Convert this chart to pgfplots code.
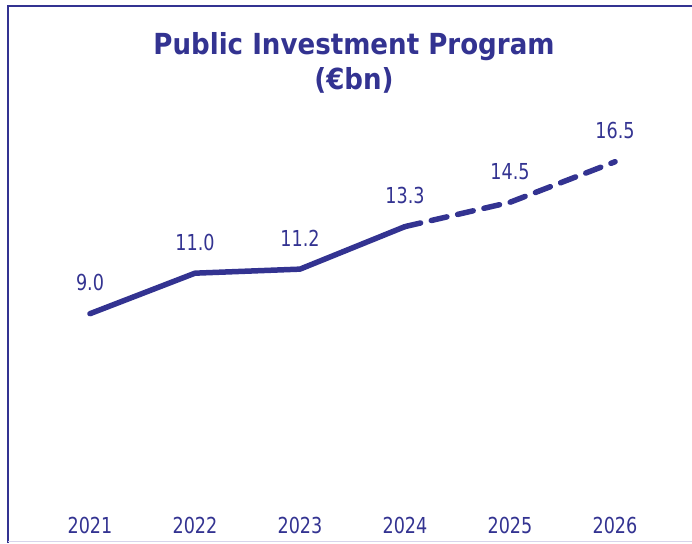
\documentclass[border=0pt]{standalone}
\usepackage{fontspec}
\setmainfont[FakeStretch=0.8]{DejaVu Sans}
\newfontfamily\titlefont[FakeStretch=0.9]{DejaVu Sans Bold}
\usepackage{pgfplots}
\pgfplotsset{compat=1.18}
\definecolor{navy}{RGB}{51,51,145}
\definecolor{lav}{RGB}{215,212,235}
\begin{document}
\begin{tikzpicture}[x=1pt,y=1pt]
\useasboundingbox (0,0) rectangle (692,543);
\draw[navy, line width=2.8pt] (8,0) -- (8,537) -- (692,537);
\draw[lav, line width=1.2pt] (8,1.5) -- (692,1.5);
\node[navy, font=\titlefont\fontsize{29}{35}\selectfont, align=center] at (354,480) {Public Investment Program\\(€bn)};
\begin{axis}[
  at={(37.5pt,47pt)}, anchor=south west,
  scale only axis, width=630pt, height=395pt,
  xmin=2020.5, xmax=2026.5, ymin=0, ymax=19.5,
  axis line style={draw=none}, tick style={draw=none},
  ytick=\empty, xtick={2021,...,2026},
  xticklabel style={font=\fontsize{22}{26}\selectfont, text=navy, yshift=-18pt},
  /pgf/number format/assume math mode=true,
  xticklabel={\pgfmathprintnumber[1000 sep={}]{\tick}},
  clip=false,
]
\addplot[navy, line width=5.5pt, line cap=round, line join=round] coordinates {
 (2021,9.0) (2022,11.0) (2023,11.2) (2024,13.3)};
\addplot[navy, line width=5.5pt, line cap=round, line join=round, dash pattern=on 16pt off 11pt] coordinates {
 (2024,13.3) (2025,14.5) (2026,16.5)};
\addplot[draw=none, mark=none, nodes near coords, point meta=explicit symbolic,
  nodes near coords style={font=\fontsize{22}{26}\selectfont, text=navy, anchor=south, yshift=19pt}]
 coordinates {
 (2021,9.0) [9.0] (2022,11.0) [11.0] (2023,11.2) [11.2] (2024,13.3) [13.3] (2025,14.5) [14.5] (2026,16.5) [16.5]};
\end{axis}
\end{tikzpicture}
\end{document}
